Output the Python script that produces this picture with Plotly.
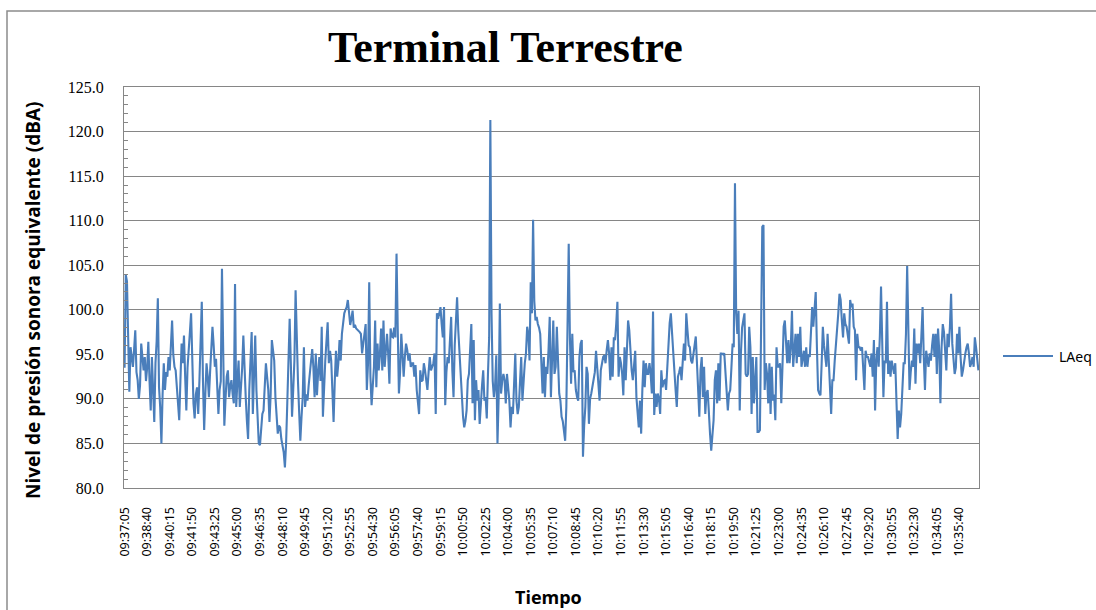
import plotly.graph_objects as go
from datetime import datetime, timedelta

# LAeq values (dBA), one every 5 seconds starting 09:37:05
laeq = [
    93.5, 103.9, 103.2, 95.0, 90.8, 95.8, 94.5, 93.6, 95.5, 97.7,
    93.0, 92.1, 90.0, 91.5, 96.2, 94.0, 93.2, 94.7, 92.0, 93.5,
    96.4, 92.0, 88.7, 94.7, 90.5, 87.4, 94.0, 96.5, 101.3, 91.3,
    89.0, 85.0, 90.5, 94.0, 91.0, 93.0, 92.5, 94.7, 93.2, 95.5,
    98.8, 95.0, 93.6, 93.2, 91.0, 89.0, 87.6, 92.0, 96.2, 94.0,
    97.1, 92.5, 88.7, 93.5, 96.2, 97.5, 99.6, 93.2, 89.5, 87.8,
    90.5, 91.3, 88.3, 92.0, 96.5, 100.9, 92.0, 86.5, 90.5, 94.0,
    92.5, 90.2, 93.0, 95.5, 98.1, 96.0, 93.6, 94.5, 92.0, 88.3,
    91.0, 92.0, 104.6, 95.0, 87.0, 90.0, 92.5, 93.2, 90.2, 91.5,
    92.1, 90.5, 89.5, 102.9, 89.1, 92.0, 94.3, 89.1, 91.0, 93.5,
    97.1, 93.0, 90.2, 87.5, 85.5, 91.0, 95.0, 97.5, 88.3, 93.0,
    97.1, 91.0, 88.0, 85.0, 84.8, 86.5, 88.3, 88.7, 91.0, 94.0,
    92.5, 91.0, 87.4, 90.5, 96.6, 95.0, 94.3, 90.2, 88.0, 86.1,
    87.0, 86.8, 85.5, 84.6, 84.0, 82.3, 85.0, 89.5, 93.5, 99.0,
    94.0, 88.0, 91.0, 94.3, 102.2, 96.0, 92.0, 88.5, 85.3, 88.0,
    90.2, 95.8, 89.1, 90.5, 89.8, 91.5, 93.2, 94.5, 95.6, 93.5,
    90.2, 95.1, 90.4, 93.0, 94.7, 92.0, 98.1, 88.0, 92.0, 94.3,
    96.5, 98.6, 94.0, 95.4, 94.3, 90.5, 87.4, 92.0, 95.4, 92.5,
    94.0, 96.6, 94.3, 97.3, 98.5, 99.6, 100.0, 100.3, 101.1, 99.9,
    98.3, 99.0, 99.9, 98.0, 98.3, 97.9, 97.8, 97.7, 97.5, 97.3,
    95.1, 96.2, 97.5, 98.4, 91.0, 94.0, 103.1, 92.5, 89.3, 92.0,
    93.6, 98.8, 91.3, 96.2, 93.2, 95.0, 97.9, 93.2, 98.8, 93.6,
    95.0, 97.3, 95.0, 91.7, 97.9, 97.0, 96.9, 98.0, 96.9, 106.3,
    98.0, 90.6, 93.0, 97.3, 95.0, 92.5, 94.7, 96.2, 95.5, 94.3,
    95.1, 93.6, 94.0, 94.0, 92.5, 93.8, 91.0, 89.6, 88.3, 93.2,
    92.0, 92.1, 94.0, 93.2, 92.1, 91.0, 93.0, 94.7, 93.2, 93.5,
    94.0, 95.1, 88.3, 99.6, 99.0, 99.6, 100.3, 98.4, 96.9, 100.3,
    89.3, 93.0, 94.7, 94.0, 96.2, 99.2, 93.2, 90.2, 96.0, 99.6,
    101.4, 97.7, 95.1, 92.1, 89.5, 88.0, 86.8, 87.5, 88.7, 92.1,
    92.8, 95.0, 98.4, 89.5, 96.6, 87.6, 92.1, 89.8, 91.0, 87.2,
    89.8, 91.5, 93.2, 89.8, 90.2, 87.8, 92.8, 96.9, 121.3, 99.6,
    92.0, 90.2, 91.5, 94.9, 85.0, 90.2, 100.7, 90.6, 92.0, 92.8,
    92.1, 89.5, 92.8, 91.0, 89.8, 86.8, 89.1, 88.3, 92.1, 95.1,
    89.8, 88.3, 89.1, 91.5, 94.7, 89.8, 92.8, 94.0, 95.1, 98.1,
    97.3, 94.3, 103.1, 99.6, 110.1, 101.0, 98.8, 99.2, 98.4, 98.0,
    97.3, 94.3, 90.6, 94.7, 90.2, 93.6, 92.8, 95.5, 99.2, 90.2,
    96.0, 98.8, 92.8, 93.6, 98.1, 92.8, 90.6, 89.8, 88.0, 87.5,
    86.5, 85.3, 89.1, 99.6, 107.4, 96.9, 91.7, 97.3, 93.0, 93.2,
    91.0, 90.2, 89.8, 94.7, 96.2, 96.6, 83.5, 87.0, 89.1, 93.6,
    92.8, 87.2, 90.0, 90.6, 91.3, 92.1, 93.0, 95.4, 93.6, 91.0,
    89.8, 93.2, 94.0, 94.7, 94.9, 94.0, 95.5, 96.6, 95.1, 92.1,
    95.8, 92.5, 96.9, 96.6, 98.4, 100.9, 92.5, 94.7, 94.0, 92.8,
    90.4, 95.8, 92.1, 94.7, 98.8, 97.7, 95.0, 93.2, 92.1, 93.6,
    95.4, 90.2, 88.5, 86.8, 89.8, 86.1, 91.0, 94.3, 91.3, 94.0,
    92.8, 92.8, 94.0, 92.8, 90.6, 99.8, 88.2, 90.6, 89.1, 90.6,
    90.0, 88.3, 93.2, 91.3, 92.0, 92.1, 91.0, 94.0, 96.9, 98.5,
    99.6, 97.3, 94.3, 92.8, 91.0, 89.1, 92.5, 93.0, 93.6, 92.1,
    94.7, 96.2, 94.3, 99.6, 97.7, 96.0, 95.8, 94.3, 94.0, 95.1,
    96.2, 97.0, 94.0, 91.0, 88.0, 93.2, 94.7, 90.2, 93.6, 88.3,
    90.6, 91.0, 88.0, 86.1, 84.2, 86.1, 87.6, 92.1, 93.2, 89.5,
    94.0, 89.8, 95.1, 95.1, 95.0, 95.1, 92.8, 89.8, 88.7, 90.6,
    91.0, 93.5, 96.2, 95.8, 114.2, 99.6, 97.3, 99.9, 88.7, 95.1,
    98.0, 98.8, 99.6, 92.8, 92.5, 92.8, 98.1, 95.8, 88.3, 94.7,
    89.5, 92.0, 94.7, 86.3, 86.3, 86.5, 95.8, 109.3, 109.5, 91.0,
    94.0, 92.8, 89.5, 94.0, 88.3, 93.6, 89.8, 90.5, 87.6, 95.8,
    93.6, 93.6, 94.0, 89.5, 93.6, 98.1, 98.8, 96.0, 94.0, 96.6,
    94.0, 95.8, 99.9, 93.6, 95.8, 97.3, 94.0, 97.3, 94.7, 98.1,
    93.6, 94.7, 95.4, 93.6, 95.8, 93.6, 95.0, 94.7, 97.3, 100.3,
    98.1, 99.6, 102.0, 95.8, 91.0, 90.6, 90.4, 94.0, 98.1, 96.0,
    94.7, 93.6, 97.3, 94.7, 92.1, 88.3, 92.1, 92.1, 94.3, 95.8,
    98.0, 99.6, 101.8, 101.1, 98.8, 96.9, 99.6, 98.4, 98.1, 97.0,
    96.2, 101.1, 100.3, 100.7, 98.1, 97.7, 92.1, 97.3, 95.8, 95.8,
    95.4, 95.8, 93.2, 91.0, 95.4, 94.7, 94.7, 94.0, 93.6, 95.1,
    92.5, 96.6, 88.7, 94.3, 95.8, 93.6, 97.0, 102.6, 95.1, 90.2,
    94.3, 94.0, 100.9, 92.8, 94.3, 92.5, 94.3, 93.6, 92.8, 94.0,
    88.3, 85.5, 88.7, 86.8, 88.3, 91.3, 94.0, 94.0, 97.3, 104.9,
    97.3, 91.0, 93.0, 94.3, 93.6, 97.9, 91.7, 96.2, 95.1, 96.2,
    94.0, 97.0, 100.3, 94.7, 91.0, 95.4, 94.3, 93.6, 95.1, 94.3,
    96.0, 97.3, 94.7, 97.3, 92.8, 97.9, 95.4, 89.5, 95.8, 98.4,
    97.5, 95.8, 93.2, 97.3, 95.8, 98.1, 101.8, 96.2, 94.7, 92.8,
    93.5, 97.3, 95.1, 98.1, 94.7, 92.5, 93.2, 94.5, 95.1, 95.8,
    96.2, 95.1, 93.6, 94.0, 94.7, 93.6, 96.9, 95.8, 94.3, 93.2,
]

tick_labels = [
    "09:37:05", "09:38:40", "09:40:15", "09:41:50", "09:43:25", "09:45:00",
    "09:46:35", "09:48:10", "09:49:45", "09:51:20", "09:52:55", "09:54:30",
    "09:56:05", "09:57:40", "09:59:15", "10:00:50", "10:02:25", "10:04:00",
    "10:05:35", "10:07:10", "10:08:45", "10:10:20", "10:11:55", "10:13:30",
    "10:15:05", "10:16:40", "10:18:15", "10:19:50", "10:21:25", "10:23:00",
    "10:24:35", "10:26:10", "10:27:45", "10:29:20", "10:30:55", "10:32:30",
    "10:34:05", "10:35:40",
]

start = datetime(2000, 1, 1, 9, 37, 5)
times = [(start + timedelta(seconds=5 * i)).strftime("%H:%M:%S") for i in range(len(laeq))]

W, H = 1096, 610
L, R, T, B = 124, 979, 87, 488  # plot area in pixels


def px(x):
    return (x - L) / (R - L)


def py(y):
    return (B - y) / (B - T)


LINE = "#4A7EBB"
GRID = "#868686"

fig = go.Figure()
fig.add_trace(go.Scatter(x=times, y=laeq, mode="lines", name="LAeq",
                         line=dict(color=LINE, width=2.1), showlegend=False))

fig.update_layout(
    width=W, height=H,
    margin=dict(l=L, r=W - R, t=T, b=H - B),
    paper_bgcolor="white", plot_bgcolor="white",
    xaxis=dict(type="category", tickmode="array", tickvals=tick_labels, ticktext=tick_labels,
               tickangle=-90, tickfont=dict(family="Noto Sans", size=12.5, color="#000"),
               showgrid=False, ticks="", showline=True, linecolor=GRID, linewidth=1,
               mirror=True, ticklabelstandoff=13, range=[-0.5, len(laeq) - 0.5]),
    yaxis=dict(range=[80, 125], tick0=80, dtick=5, tickformat=".1f",
               tickfont=dict(family="Liberation Serif", size=16, color="#000"),
               showgrid=True, gridcolor=GRID, gridwidth=1, ticks="",
               showline=True, linecolor=GRID, linewidth=1, mirror=True,
               zeroline=False, ticklabelstandoff=16,
               minor=dict(dtick=1, ticks="inside", ticklen=4, tickcolor=GRID, showgrid=False)),
    annotations=[
        dict(text="Terminal Terrestre", x=px(505), y=py(48), xref="paper", yref="paper",
             showarrow=False, xanchor="center", yanchor="middle",
             font=dict(family="Liberation Serif", size=44, weight="bold", color="#000")),
        dict(text="Nivel de presión sonora equivalente (dBA)", x=px(33), y=py(300),
             xref="paper", yref="paper", showarrow=False, textangle=-90,
             xanchor="center", yanchor="middle",
             font=dict(family="Open Sans", size=19, weight="bold", color="#000")),
        dict(text="Tiempo", x=px(548), y=py(597), xref="paper", yref="paper",
             showarrow=False, xanchor="center", yanchor="middle",
             font=dict(family="Open Sans", size=18, weight="bold", color="#000")),
        dict(text="LAeq", x=px(1057), y=py(356), xref="paper", yref="paper",
             showarrow=False, xanchor="left", yanchor="middle",
             font=dict(family="Noto Sans", size=14, color="#000")),
    ],
    shapes=[
        dict(type="rect", xref="paper", yref="paper", x0=px(7), x1=px(1105),
             y0=py(620), y1=py(11), line=dict(color="#8c8c8c", width=1.5),
             fillcolor="rgba(0,0,0,0)", layer="below"),
        dict(type="line", xref="paper", yref="paper", x0=px(1003), x1=px(1053),
             y0=py(356), y1=py(356), line=dict(color=LINE, width=2.1)),
    ],
)

fig.write_html("out.html", config={"displayModeBar": False},
               post_script="document.body.style.margin='0';document.body.style.padding='0';")
